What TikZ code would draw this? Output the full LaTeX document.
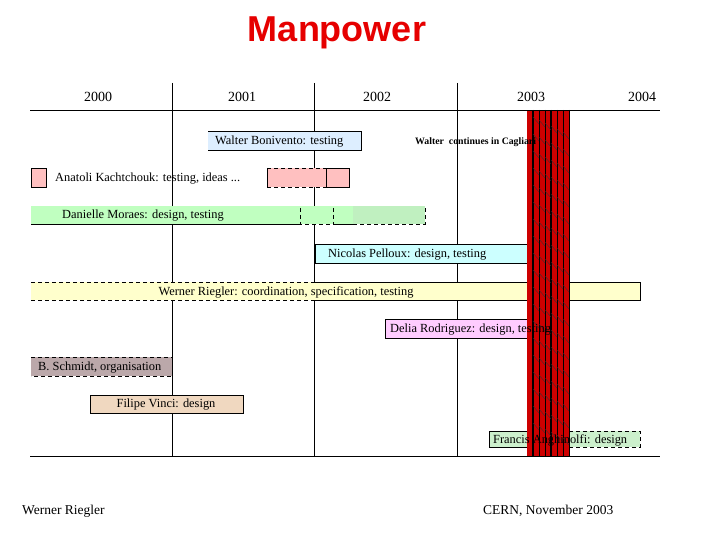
\documentclass[tikz,border=0pt]{standalone}
\usepackage{fontspec}
\setmainfont{Liberation Serif}
\newfontfamily\titlefont{Liberation Sans}
\definecolor{ctitle}{RGB}{230,0,0}
\definecolor{cblue}{RGB}{221,238,255}
\definecolor{cpink}{RGB}{255,192,192}
\definecolor{cgreen}{RGB}{192,255,192}
\definecolor{cgreenb}{RGB}{192,240,192}
\definecolor{ccyan}{RGB}{204,255,255}
\definecolor{cyellow}{RGB}{255,255,204}
\definecolor{cmagenta}{RGB}{255,204,255}
\definecolor{cmauve}{RGB}{187,168,170}
\definecolor{ctan}{RGB}{240,216,192}
\definecolor{cfgreen}{RGB}{204,240,204}
\definecolor{cband}{RGB}{205,0,0}
\tikzset{
  gridline/.style={line width=0.9pt, black},
  boxedge/.style={line width=0.8pt, black},
  dashedge/.style={line width=0.8pt, black, dash pattern=on 4pt off 3pt},
  tasklabel/.style={inner sep=0pt, anchor=west, font=\fontsize{12.4}{14}\selectfont},
  yearlabel/.style={inner sep=0pt, font=\fontsize{14}{16}\selectfont},
  footlabel/.style={inner sep=0pt, anchor=west, font=\fontsize{13.5}{15}\selectfont},
}
\begin{document}
\begin{tikzpicture}[x=1pt,y=-1pt]
\useasboundingbox (0,0) rectangle (720,540);
\fill[white] (0,0) rectangle (720,540);

% title
\node[text=ctitle] (title) at (337,33) {\titlefont\bfseries\fontsize{36}{40}\selectfont Manpower};

% years
\node[yearlabel] (y2000) at (98,97) {2000};
\node[yearlabel] (y2001) at (242,97) {2001};
\node[yearlabel] (y2002) at (377,97) {2002};
\node[yearlabel] (y2003) at (531,97) {2003};
\node[yearlabel] (y2004) at (642,97) {2004};

% vertical grid lines
\draw[gridline] (172,83) -- (172,456);
\draw[gridline] (314.5,83) -- (314.5,456);
\draw[gridline] (457,83) -- (457,456);

% Walter Bonivento
\fill[cblue] (208,131) rectangle (361,150);
\draw[boxedge] (208,131) -- (361,131) -- (361,150) -- (208,150);
\node[tasklabel] (walter) at (215,141.5) {Walter Bonivento: testing};

% Anatoli
\fill[cpink] (31,168) rectangle (46,187);
\draw[boxedge] (31,168) rectangle (46,187);
\node[tasklabel] (anatoli) at (55,179) {Anatoli Kachtchouk: testing, ideas ...};
\fill[cpink] (267,168) rectangle (349,187);
\draw[dashedge] (267,168) -- (326,168);
\draw[dashedge] (267,187) -- (326,187);
\draw[boxedge] (267,168) -- (267,187);
\draw[boxedge] (326,168) rectangle (349,187);

% Danielle
\fill[cgreen] (31,206) rectangle (353,224);
\fill[cgreenb] (353,206) rectangle (425,224);
\draw[boxedge] (31,224) -- (300,224);
\draw[dashedge] (300,208) -- (300,224) -- (333,224);
\draw[dashedge] (333,208) -- (333,224);
\draw[boxedge] (333,224) -- (353,224);
\draw[dashedge] (353,224) -- (425,224) -- (425,206);
\node[tasklabel] (danielle) at (62,216) {Danielle Moraes: design, testing};

% Nicolas
\fill[ccyan] (315,244) rectangle (527,263);
\draw[boxedge] (527,244) -- (315,244) -- (315,263) -- (527,263);
\node[tasklabel] (nicolas) at (328,255) {Nicolas Pelloux: design, testing};

% Werner
\fill[cyellow] (31,282) rectangle (640,300);
\draw[dashedge] (31,282) -- (315,282);
\draw[dashedge] (31,300) -- (315,300);
\draw[boxedge] (315,282) -- (640,282) -- (640,300) -- (315,300);
\node[tasklabel, anchor=center] (werner) at (286,292) {Werner Riegler: coordination, specification, testing};

% Delia box
\fill[cmagenta] (385,319) rectangle (527,338);
\draw[boxedge] (527,319) -- (385,319) -- (385,338) -- (527,338);

% B. Schmidt
\fill[cmauve] (31,357) rectangle (172,376);
\draw[dashedge] (31,357) -- (172,357) -- (172,376) -- (31,376);
\node[tasklabel] (schmidt) at (38,368) {B. Schmidt, organisation};

% Filipe
\fill[ctan] (90,395) rectangle (243,413);
\draw[boxedge] (90,395) rectangle (243,413);
\node[tasklabel, anchor=center] (filipe) at (166,405) {Filipe Vinci: design};

% Francis box
\fill[cfgreen] (489,431) rectangle (640,447);
\draw[boxedge] (527,431) -- (489,431) -- (489,447) -- (527,447);
\draw[dashedge] (527,431) -- (640,431) -- (640,447) -- (527,447);

% red band (2003)
\fill[cband] (527,110) rectangle (570,456);
\foreach \x in {539,545,557,563,569} \draw[line width=0.45pt] (\x,110) -- (\x,456);
\foreach \x in {533,551} \draw[line width=1.1pt] (\x,110) -- (\x,456);
\foreach \c [count=\i] in {533,539,545,551,557,563} {
  \foreach \y in {114,131,...,428} {
    \draw[line width=0.35pt, black!80] (\c,\y+3*\i) -- (\c+6,\y+3*\i+7);
  }
}

% horizontal lines
\draw[gridline] (30,110) -- (660,110);
\draw[gridline] (30,456) -- (660,456);

% texts on top of band
\node[inner sep=0pt, anchor=west, font=\bfseries\fontsize{9.8}{11}\selectfont] (cagliari) at (415,142) {Walter\ \ continues in Cagliari};
\node[tasklabel] (delia) at (390,330) {Delia Rodriguez: design, testing};
\node[tasklabel] (francis) at (493,440) {Francis Anghinolfi: design};

% footer
\node[footlabel] (foot1) at (22,511) {Werner Riegler};
\node[footlabel] (foot2) at (483,511) {CERN, November 2003};
\end{tikzpicture}
\end{document}
